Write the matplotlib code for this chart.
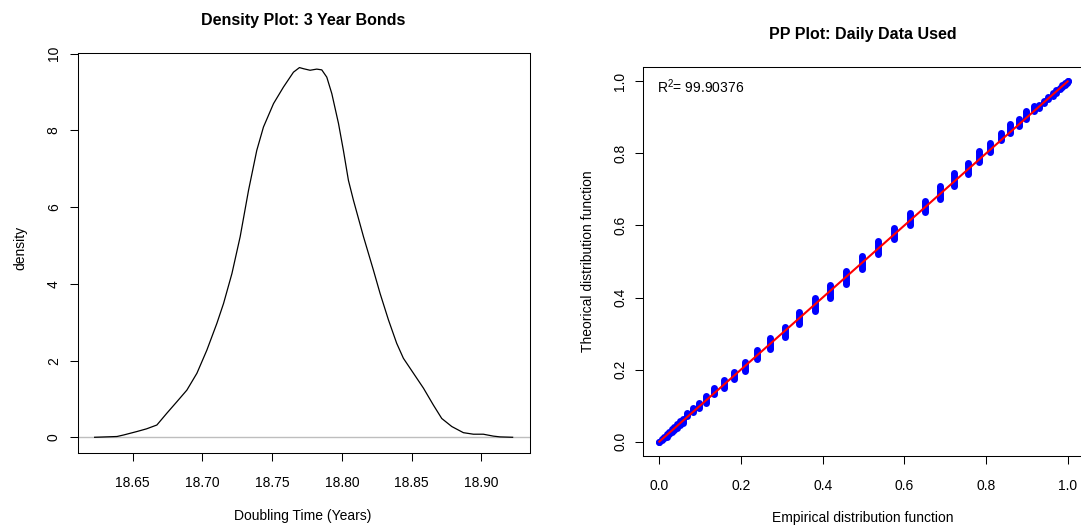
import numpy as np
import matplotlib
matplotlib.use("Agg")
import matplotlib.pyplot as plt

plt.rcParams["font.family"] = ["Liberation Sans", "DejaVu Sans"]
plt.rcParams["mathtext.fontset"] = "custom"
plt.rcParams["mathtext.rm"] = "Liberation Sans"
plt.rcParams["mathtext.it"] = "Liberation Sans:italic"

# density of doubling time
dens_x = [18.6228, 18.6388, 18.6436, 18.6531, 18.660, 18.6674, 18.6746, 18.6818,
          18.6889, 18.6961, 18.7032, 18.7104, 18.7152, 18.7212, 18.7271, 18.7331,
          18.739, 18.7438, 18.751, 18.7581, 18.7653, 18.7696, 18.7725, 18.7772,
          18.782, 18.7856, 18.7892, 18.7928, 18.7976, 18.8011, 18.8047, 18.8083,
          18.8155, 18.8226, 18.8274, 18.8334, 18.8393, 18.8441, 18.8513, 18.8585,
          18.8656, 18.8716, 18.8788, 18.8871, 18.8943, 18.9014, 18.9086, 18.9134,
          18.9224]
dens_y = [0, 0.02, 0.06, 0.15, 0.22, 0.32, 0.63, 0.93, 1.23, 1.67, 2.27, 2.97,
          3.49, 4.27, 5.23, 6.44, 7.48, 8.09, 8.70, 9.13, 9.52, 9.64, 9.61, 9.57,
          9.60, 9.58, 9.39, 8.96, 8.18, 7.48, 6.70, 6.18, 5.23, 4.36, 3.75, 3.06,
          2.45, 2.06, 1.67, 1.28, 0.84, 0.49, 0.28, 0.12, 0.08, 0.08, 0.03, 0.01, 0]
dens_xticks = [18.65, 18.70, 18.75, 18.80, 18.85, 18.90]
dens_yticks = [0, 2, 4, 6, 8, 10]

# PP plot: empirical x of each tied group and the span of theoretical values
pp_x = [0.0, 0.006, 0.012, 0.018, 0.024, 0.030, 0.037, 0.044, 0.051, 0.058,
        0.068, 0.082, 0.098, 0.115, 0.135, 0.158, 0.182, 0.210, 0.240, 0.272,
        0.308, 0.342, 0.380, 0.417, 0.456, 0.496, 0.536, 0.574, 0.613, 0.650,
        0.687, 0.722, 0.755, 0.782, 0.809, 0.836, 0.858, 0.881, 0.899, 0.918,
        0.930, 0.942, 0.953, 0.963, 0.972, 0.980, 0.987, 0.993, 0.998, 1.0]
pp_lo = [0.0, 0.004, 0.009, 0.014, 0.020, 0.026, 0.032, 0.039, 0.046, 0.053,
         0.070, 0.082, 0.094, 0.108, 0.131, 0.150, 0.173, 0.196, 0.229, 0.257,
         0.289, 0.326, 0.363, 0.400, 0.438, 0.479, 0.521, 0.563, 0.600, 0.637,
         0.674, 0.711, 0.744, 0.776, 0.804, 0.836, 0.858, 0.876, 0.895, 0.918,
         0.927, 0.939, 0.950, 0.960, 0.969, 0.978, 0.985, 0.991, 0.996, 1.0]
pp_hi = [0.0, 0.008, 0.014, 0.021, 0.027, 0.034, 0.041, 0.048, 0.056, 0.063,
         0.078, 0.094, 0.106, 0.126, 0.148, 0.171, 0.194, 0.222, 0.254, 0.287,
         0.319, 0.361, 0.398, 0.435, 0.473, 0.514, 0.556, 0.593, 0.635, 0.667,
         0.709, 0.746, 0.774, 0.807, 0.830, 0.858, 0.881, 0.895, 0.918, 0.932,
         0.934, 0.946, 0.957, 0.967, 0.976, 0.983, 0.990, 0.995, 0.999, 1.0]
ref_line = [0, 1]
r2_text = "R$^2$= 99.90376"
pp_ticks = [0.0, 0.2, 0.4, 0.6, 0.8, 1.0]

W, H = 1081, 529
fig = plt.figure(figsize=(W / 100, H / 100), dpi=100)

# ---- left: density plot
ax1 = fig.add_axes([77.5 / W, 1 - 453 / H, 452 / W, 400 / H])
ax1.axhline(0, color="#bebebe", lw=1.0)
ax1.plot(dens_x, dens_y, color="black", lw=0.9)
ax1.set_xlim(18.6105, 18.9345)
ax1.set_ylim(-0.41, 10.02)
ax1.set_xticks(dens_xticks)
ax1.set_xticklabels([f"{v:.2f}" for v in dens_xticks])
ax1.set_yticks(dens_yticks)
ax1.tick_params(axis="x", length=5.5, width=0.75, pad=11, labelsize=10)
ax1.tick_params(axis="y", length=5.5, width=0.75, pad=6.5, labelsize=10, labelrotation=90)
plt.setp(ax1.get_yticklabels(), va="center")
for s in ax1.spines.values():
    s.set_linewidth(0.75)
fig.text(303 / W, 1 - 20 / H, "Density Plot: 3 Year Bonds", ha="center", va="center",
         fontsize=11.5, fontweight="bold")
fig.text(303 / W, 1 - 516 / H, "Doubling Time (Years)", ha="center", va="center", fontsize=10)
fig.text(20 / W, 1 - 248 / H, "density", ha="center", va="center", rotation=90, fontsize=10)

# ---- right: PP plot
ax2 = fig.add_axes([643 / W, 1 - 456 / H, 441 / W, 389 / H])
ax2.vlines(pp_x, pp_lo, pp_hi, color="blue", lw=5.0)
ax2.plot(pp_x, pp_lo, "o", color="blue", ms=5.0, mew=0)
ax2.plot(pp_x, pp_hi, "o", color="blue", ms=5.0, mew=0)
ax2.plot(ref_line, ref_line, color="red", lw=1.5)
ax2.set_xlim(-0.04, 1.04)
ax2.set_ylim(-0.04, 1.04)
ax2.set_xticks(pp_ticks)
ax2.set_yticks(pp_ticks)
ax2.set_xticklabels([f"{v:.1f}" for v in pp_ticks])
ax2.set_yticklabels([f"{v:.1f}" for v in pp_ticks])
ax2.tick_params(axis="x", length=5.5, width=0.75, pad=11, labelsize=10)
ax2.tick_params(axis="y", length=5.5, width=0.75, pad=6, labelsize=10, labelrotation=90)
plt.setp(ax2.get_yticklabels(), va="center")
for s in ax2.spines.values():
    s.set_linewidth(0.75)
ax2.text(0.032, 0.95, r2_text, transform=ax2.transAxes, ha="left", va="center", fontsize=10)
fig.text(863 / W, 1 - 34 / H, "PP Plot: Daily Data Used", ha="center", va="center",
         fontsize=11.5, fontweight="bold")
fig.text(863 / W, 1 - 518 / H, "Empirical distribution function", ha="center", va="center",
         fontsize=10)
fig.text(588 / W, 1 - 261 / H, "Theorical distribution function", ha="center", va="center",
         rotation=90, fontsize=10)

fig.savefig("out.png", dpi=100)
